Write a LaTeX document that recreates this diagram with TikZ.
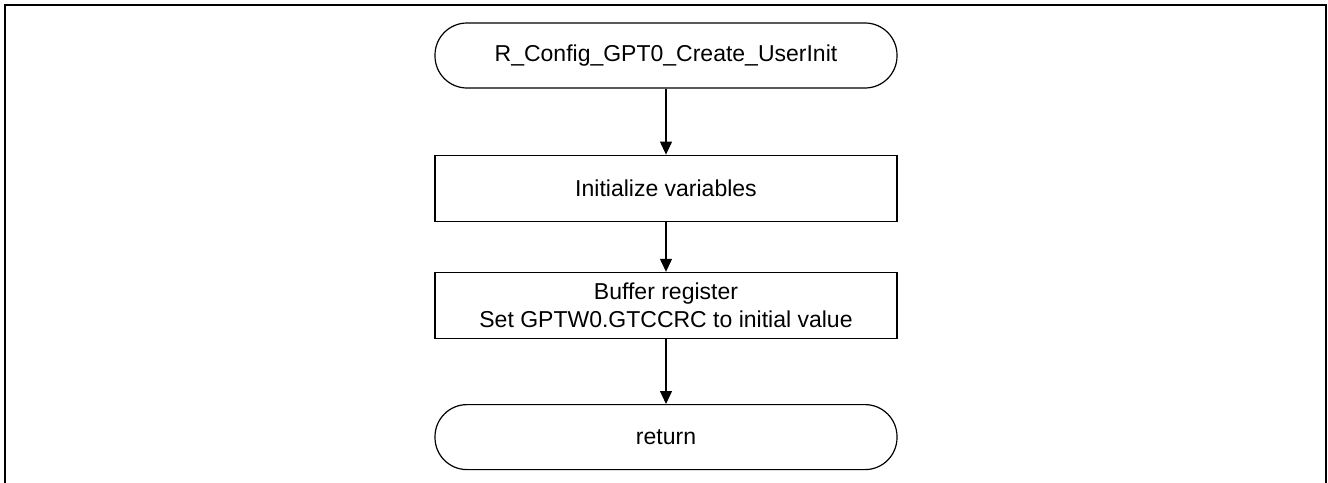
\documentclass[tikz,border=0pt]{standalone}
\usepackage{fontspec}
\setmainfont{Liberation Sans}
\usetikzlibrary{arrows.meta,positioning}

\begin{document}
\begin{tikzpicture}[
        node distance=33pt,
        terminal/.style={draw, rounded corners=16pt, align=center, minimum width=231pt, minimum height=32.5pt, font=\fontsize{11.5}{14}\selectfont, line width=0.6pt},
        block/.style={draw, align=center, minimum width=231pt, minimum height=33pt, font=\fontsize{11.5}{14}\selectfont, line width=0.6pt},
        line/.style={-{Triangle[length=6.5pt,width=6pt]}, line width=0.6pt}
    ]
        \useasboundingbox (0,0) rectangle (664pt,-241pt);
        \draw[line width=1.1pt] (2.5pt,-2.5pt) rectangle (663pt,-250pt);
        \node[terminal] (start) at (333pt,-27.75pt) {R\_Config\_GPT0\_Create\_UserInit};
        \node[block, below=of start] (init) {Initialize variables};
        \node[block, below=25pt of init] (buffer) {Buffer register\\Set GPTW0.GTCCRC to initial value};
        \node[terminal, below=32.5pt of buffer] (ret) {return};
        \draw[line] (start) -- (init);
        \draw[line] (init) -- (buffer);
        \draw[line] (buffer) -- (ret);
    \end{tikzpicture}
\end{document}
